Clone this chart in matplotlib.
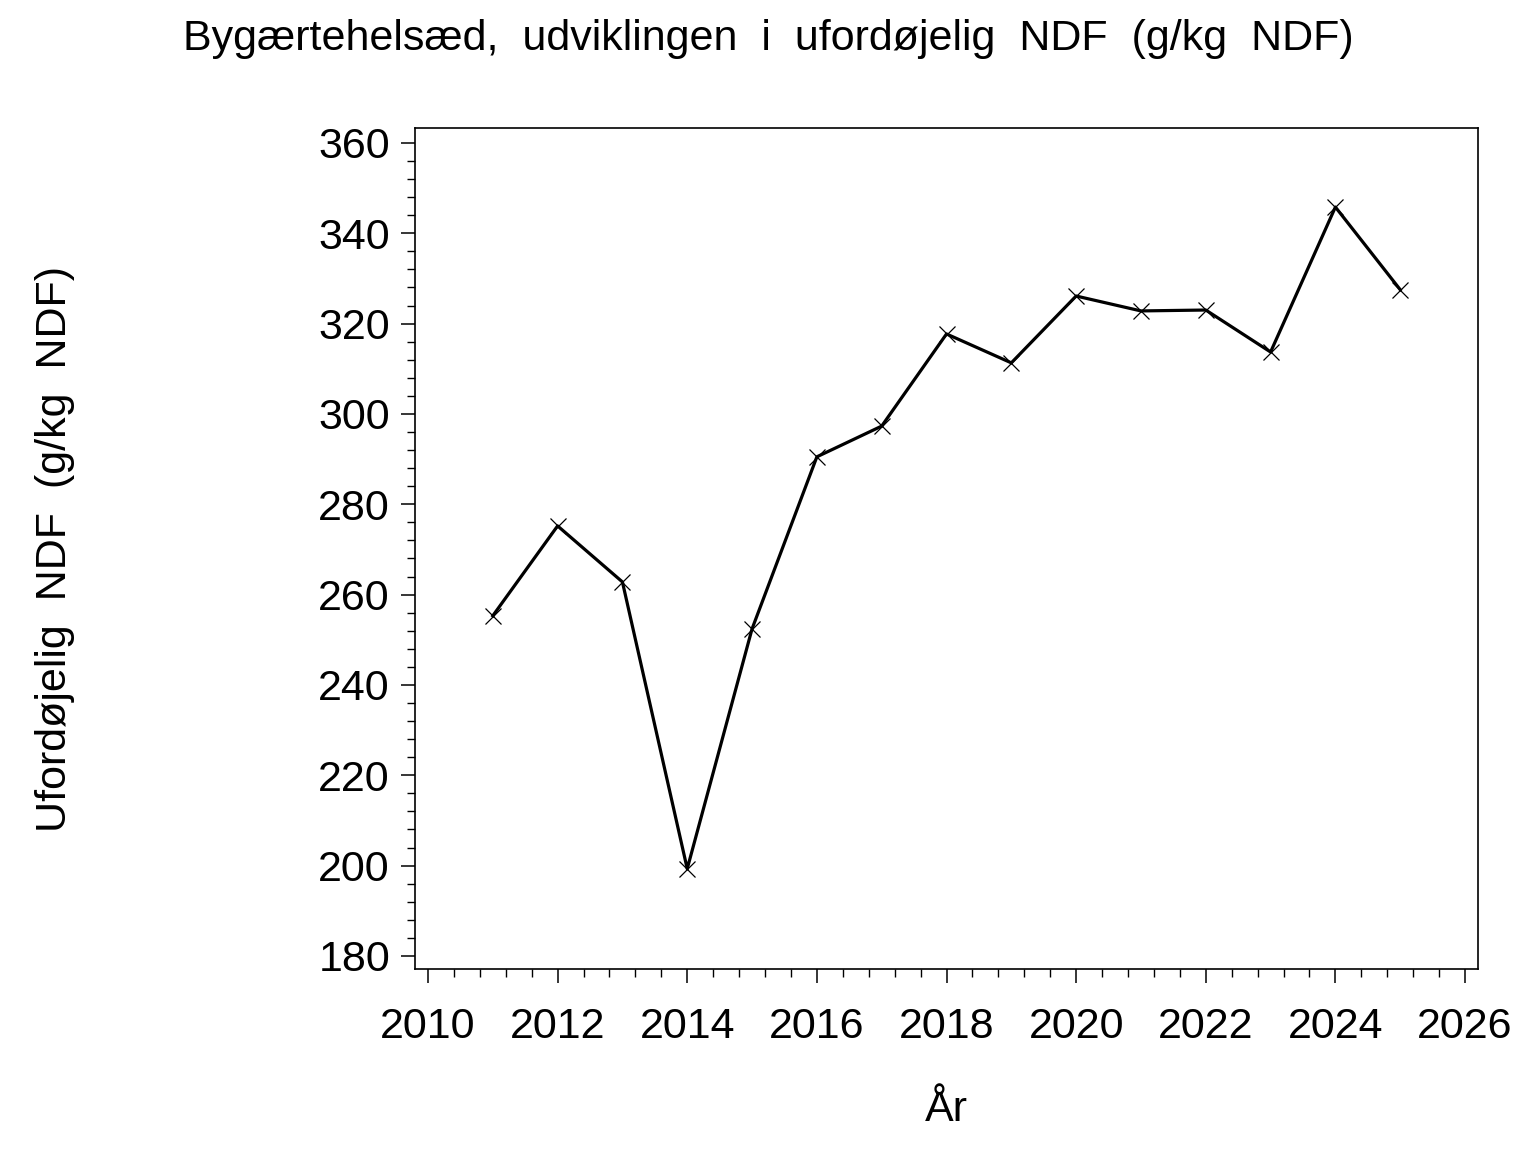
import matplotlib
matplotlib.use("Agg")
import matplotlib.pyplot as plt
from matplotlib.ticker import MultipleLocator

years = [2011, 2012, 2013, 2014, 2015, 2016, 2017, 2018, 2019, 2020, 2021, 2022, 2023, 2024, 2025]
undf = [255.3, 275.2, 262.8, 199.3, 252.4, 290.5, 297.3, 317.7, 311.3, 326.1, 322.8, 323.0, 313.7, 345.8, 327.5]

title = "Bygærtehelsæd,  udviklingen  i  ufordøjelig  NDF  (g/kg  NDF)"
xlabel = "År"
ylabel = "Ufordøjelig  NDF  (g/kg  NDF)"

plt.rcParams['font.family'] = ['Liberation Sans', 'DejaVu Sans']

fig = plt.figure(figsize=(15.36, 11.52), dpi=100)
ax = fig.add_axes([415/1536, 1-969/1152, (1478-415)/1536, (969-128)/1152])

ax.plot(years, undf, color='black', lw=2.3, marker='x', markersize=12,
        markeredgewidth=0.9, markeredgecolor='black')

ax.set_xlim(2009.8, 2026.2)
ax.set_ylim(177.1, 363.3)
ax.xaxis.set_major_locator(MultipleLocator(2))
ax.xaxis.set_minor_locator(MultipleLocator(0.4))
ax.yaxis.set_major_locator(MultipleLocator(20))
ax.yaxis.set_minor_locator(MultipleLocator(4))

for s in ax.spines.values():
    s.set_linewidth(1.2)

ax.tick_params(which='major', direction='out', length=10, width=1.1, labelsize=31)
ax.tick_params(which='minor', direction='out', length=5.5, width=1.0)
ax.tick_params(axis='y', which='major', pad=8)
ax.tick_params(axis='x', which='major', pad=17)

fig.text(0.5, 1-39/1152, title, ha='center', va='center', fontsize=31)
fig.text(946/1536, 1-1110/1152, xlabel, ha='center', va='center', fontsize=31)
fig.text(55/1536, 1-549/1152, ylabel, ha='center', va='center', rotation=90, fontsize=31)

fig.savefig('out.png', dpi=100)
